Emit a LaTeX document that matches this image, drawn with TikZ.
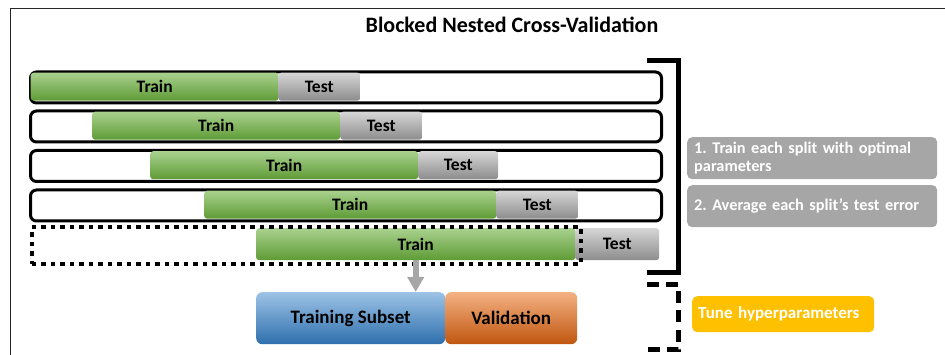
\documentclass[tikz,border=0pt]{standalone}
\usepackage{fontspec}
\setmainfont{Carlito}
\usetikzlibrary{arrows.meta}

\definecolor{trainTop}{HTML}{A9D18E}
\definecolor{trainBot}{HTML}{5E9B35}
\definecolor{testTop}{HTML}{D6D6D6}
\definecolor{testBot}{HTML}{8C8C8C}
\definecolor{subTop}{HTML}{9DC3E6}
\definecolor{subBot}{HTML}{2E6FAD}
\definecolor{valTop}{HTML}{F4B183}
\definecolor{valBot}{HTML}{C0560F}
\definecolor{noteGray}{HTML}{A6A6A6}
\definecolor{tuneGold}{HTML}{FFC000}

\tikzset{
  seg/.style={rectangle, rounded corners=3pt, anchor=north west, inner sep=0pt,
    font=\bfseries\fontsize{17.5}{20}\selectfont, text=black},
  trainseg/.style={seg, top color=trainTop, bottom color=trainBot},
  testseg/.style={seg, top color=testTop, bottom color=testBot},
  rowbox/.style={rectangle, draw=black, line width=3pt, rounded corners=6pt,
    anchor=north west, inner sep=0pt},
  dotbox/.style={rectangle, draw=black, line width=4.5pt,
    dash pattern=on 4.5pt off 5pt, anchor=north west, inner sep=0pt},
  bigseg/.style={rectangle, rounded corners=6pt, anchor=north west, inner sep=0pt,
    font=\bfseries\fontsize{19}{22}\selectfont, text=black},
  note/.style={rectangle, rounded corners=5pt, anchor=north west, inner xsep=7pt,
    inner ysep=0pt, fill=noteGray, text=white, align=left,
    font=\bfseries\fontsize{16.3}{17.5}\selectfont\frenchspacing},
  bracket/.style={line width=5pt, line cap=butt, line join=miter},
  flowarrow/.style={draw=noteGray, line width=6pt,
    -{Triangle[width=16pt,length=15pt]}},
}

\begin{document}
\begin{tikzpicture}[x=1pt, y=-1pt]
\useasboundingbox (0,0) rectangle (945,355);

% frame
\draw[line width=1.3pt, black!85] (10.5,355) -- (10.5,8.5) -- (945,8.5);

% title
\node[font=\bfseries\fontsize{22}{24}\selectfont] (title) at (512,25) {Blocked Nested Cross-Validation};

% split 1
\node[rowbox, minimum width=631pt, minimum height=31pt] (row1) at (29,70.5) {};
\node[trainseg, minimum width=248pt, minimum height=28pt] (train1) at (30.5,72.5) {Train};
\node[testseg, minimum width=82pt, minimum height=28pt] (test1) at (278,72.5) {Test};

% split 2
\node[rowbox, minimum width=631pt, minimum height=31pt] (row2) at (29,109.5) {};
\node[trainseg, minimum width=248pt, minimum height=28pt] (train2) at (92,111.5) {Train};
\node[testseg, minimum width=82pt, minimum height=28pt] (test2) at (340,111.5) {Test};

% split 3
\node[rowbox, minimum width=631pt, minimum height=31pt] (row3) at (29,149) {};
\node[trainseg, minimum width=268pt, minimum height=28pt] (train3) at (150,151) {Train};
\node[testseg, minimum width=80pt, minimum height=28pt] (test3) at (418,151) {Test};

% split 4
\node[rowbox, minimum width=631pt, minimum height=31pt] (row4) at (29,188.5) {};
\node[trainseg, minimum width=292pt, minimum height=28pt] (train4) at (204,190.5) {Train};
\node[testseg, minimum width=82pt, minimum height=28pt] (test4) at (496,190.5) {Test};

% split 5 (inner loop)
\node[trainseg, minimum width=319pt, minimum height=32pt] (train5) at (256,228) {Train};
\node[testseg, minimum width=84pt, minimum height=32pt] (test5) at (575,228) {Test};
\node[dotbox, minimum width=549pt, minimum height=37pt] (row5) at (29.5,225) {};

% inner split of the training block
\node[bigseg, top color=subTop, bottom color=subBot, minimum width=189pt, minimum height=52pt] (subset) at (256,292) {Training Subset};
\node[bigseg, top color=valTop, bottom color=valBot, minimum width=132pt, minimum height=52pt] (valid) at (445,292) {Validation};
\draw[flowarrow] (train5.south) -- (train5.south |- subset.north);

% brackets
\draw[bracket] (647,61) -- (678,61) -- (678,273) -- (647,273);
\draw[bracket, dash pattern=on 12pt off 7pt] (647,284.5) -- (678,284.5) -- (678,349) -- (647,349);

% notes
\node[note, text width=236pt, minimum height=42pt] (outer1) at (687,137) {1. Train each split with optimal\\parameters};
\node[note, text width=236pt, minimum height=42pt] (outer2) at (687,185) {2. Average each split’s test error};
\node[note, fill=tuneGold, inner xsep=6pt, font=\bfseries\fontsize{17}{20}\selectfont, text width=170pt, minimum height=36pt] (tune) at (692,296) {Tune hyperparameters};
\end{tikzpicture}
\end{document}
